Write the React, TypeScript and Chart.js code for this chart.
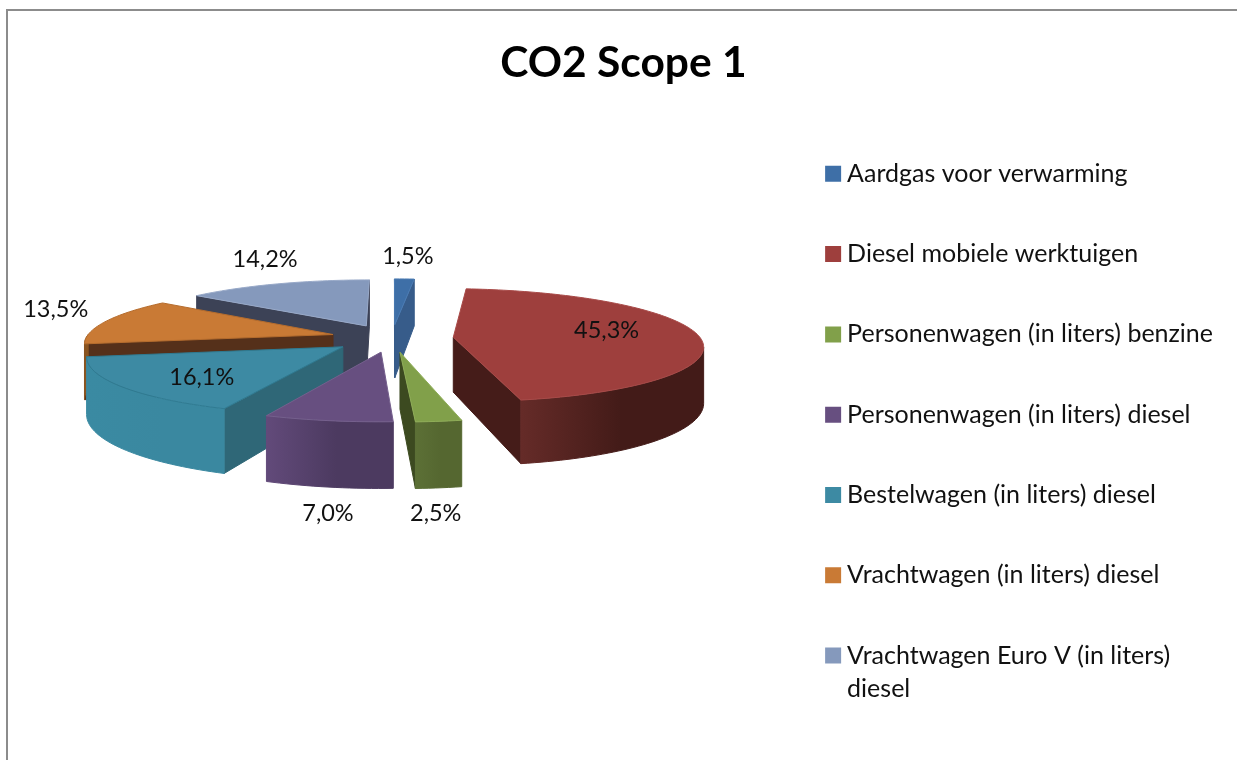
import React, { useEffect, useRef } from "react";
import { Chart, registerables } from "chart.js";

Chart.register(...registerables);

const titleText = "CO2 Scope 1";
const categories: (string | string[])[] = [
  "Aardgas voor verwarming",
  "Diesel mobiele werktuigen",
  "Personenwagen (in liters) benzine",
  "Personenwagen (in liters) diesel",
  "Bestelwagen (in liters) diesel",
  "Vrachtwagen (in liters) diesel",
  ["Vrachtwagen Euro V (in liters)", "diesel"],
];
const shares = [1.5, 45.3, 2.5, 7.0, 16.1, 13.5, 14.2];

const topColors = ["#3E6FA7", "#9E3F3D", "#81A04A", "#674F80", "#3D8AA3", "#C97A35", "#8599BC"];
const sideColors = ["#375C8A", "#451C19", "#3C4A20", "#4D3B60", "#2F6777", "#55301A", "#3C4256"];
const wallFrom = ["#375C8A", "#652B28", "#5C7036", "#624A7A", "#3A8AA2", "#8A5420", "#3C4256"];
const wallTo = ["#375C8A", "#431B18", "#556730", "#4C3A60", "#3A88A0", "#8A5420", "#3C4256"];
const edgeColors = ["#4A7BB3", "#A84A48", "#8FAD58", "#75608D", "#2F7A91", "#B56C2D", "#98A9C8"];
const labelNudge = [
  [3.5, -22.5],
  [-90.5, -4],
  [-3, 92],
  [0, 93],
  [80.5, -9],
  [-50.5, -11.5],
  [-12, -24.5],
];

const EXPLODE = 61.5;
const RADIUS = 247;
const TILT = 0.225;
const PERSPECTIVE = 0.14;
const DEPTH = 55;
const CX = 384 / 1229;
const CANVAS_H = 900;
const CY = 327 / CANVAS_H;

const pie3d = {
  id: "pie3d",
  beforeDatasetDraw(chart: any) {
    const { ctx, width, height } = chart;
    const cx = width * CX;
    const cy = height * CY;
    const arcs = chart.getDatasetMeta(0).data.map((el: any, i: number) => {
      const p = el.getProps(["startAngle", "endAngle", "outerRadius"], true);
      return { i, start: p.startAngle, end: p.endAngle, r: p.outerRadius, mid: (p.startAngle + p.endAngle) / 2 };
    });
    const order = [...arcs].sort((a, b) => Math.sin(a.mid) - Math.sin(b.mid));
    for (const s of order) {
      const ex = EXPLODE * Math.cos(s.mid);
      const ey = EXPLODE * Math.sin(s.mid);
      const scale = (Y: number) => 1 / (1 - (PERSPECTIVE * Y) / s.r);
      const at = (rad: number, ang: number, down = 0) => {
        const X = ex + rad * Math.cos(ang);
        const Y = ey + rad * Math.sin(ang);
        const f = scale(Y);
        return { x: cx + X * f, y: cy + TILT * Y * f + down * DEPTH * f };
      };
      const arcPts = (a: number, b: number, down = 0) => {
        const n = Math.max(2, Math.ceil(Math.abs(b - a) * 40));
        const out = [];
        for (let k = 0; k <= n; k++) out.push(at(s.r, a + ((b - a) * k) / n, down));
        return out;
      };
      const fillPoly = (pts: { x: number; y: number }[], fill: any, stroke?: any) => {
        ctx.beginPath();
        pts.forEach((p, k) => (k ? ctx.lineTo(p.x, p.y) : ctx.moveTo(p.x, p.y)));
        ctx.closePath();
        ctx.fillStyle = fill;
        ctx.fill();
        ctx.strokeStyle = stroke || fill;
        ctx.lineWidth = 1;
        ctx.stroke();
      };
      const apex = at(0, 0);
      const inner = at(s.r * 0.7, s.mid);
      const radialFace = (ang: number) => {
        const e = at(s.r, ang);
        const vx = e.x - apex.x;
        const vy = e.y - apex.y;
        const crossIn = vx * (inner.y - apex.y) - vy * (inner.x - apex.x);
        const crossDown = vx;
        if (crossIn * crossDown >= 0) return;
        fillPoly([apex, e, at(s.r, ang, 1), at(0, 0, 1)], sideColors[s.i]);
      };
      radialFace(s.start);
      radialFace(s.end);
      const lo = Math.max(s.start, 0);
      const hi = Math.min(s.end, Math.PI);
      if (hi > lo) {
        const fullTop = arcPts(lo, hi);
        const fullBottom = arcPts(lo, hi, 1);
        const xs = fullTop.map((p) => p.x);
        const iMax = xs.indexOf(Math.max(...xs));
        const iMin = xs.indexOf(Math.min(...xs));
        const from = Math.min(iMax, iMin);
        const to = Math.max(iMax, iMin) + 1;
        const top = fullTop.slice(from, to);
        const bottom = fullBottom.slice(from, to).reverse();
        const g = ctx.createLinearGradient(Math.min(...xs), 0, Math.max(...xs), 0);
        g.addColorStop(0, wallFrom[s.i]);
        g.addColorStop(0.55, wallTo[s.i]);
        g.addColorStop(1, wallTo[s.i]);
        fillPoly([...top, ...bottom], g);
      }
      fillPoly([apex, ...arcPts(s.start, s.end)], topColors[s.i], edgeColors[s.i]);
    }
    return false;
  },
  afterDatasetsDraw(chart: any) {
    const { ctx, width, height } = chart;
    const cx = width * CX;
    const cy = height * CY;
    ctx.save();
    ctx.font = "400 23.5px Lato";
    ctx.fillStyle = "#111";
    ctx.textAlign = "center";
    ctx.textBaseline = "middle";
    chart.getDatasetMeta(0).data.forEach((el: any, i: number) => {
      const p = el.getProps(["startAngle", "endAngle", "outerRadius"], true);
      const mid = (p.startAngle + p.endAngle) / 2;
      const Y = (EXPLODE + p.outerRadius) * Math.sin(mid);
      const X = (EXPLODE + p.outerRadius) * Math.cos(mid);
      const f = 1 / (1 - (PERSPECTIVE * Y) / p.outerRadius);
      const text = shares[i].toFixed(1).replace(".", ",") + "%";
      ctx.fillText(text, cx + X * f + labelNudge[i][0], cy + TILT * Y * f + labelNudge[i][1]);
    });
    ctx.restore();
  },
};

export default function App() {
  const ref = useRef<HTMLCanvasElement>(null);
  useEffect(() => {
    const chart = new Chart(ref.current as HTMLCanvasElement, {
      type: "pie",
      data: {
        labels: categories as any,
        datasets: [{ data: shares, backgroundColor: topColors, borderWidth: 0 }],
      },
      options: {
        responsive: false,
        animation: false,
        radius: RADIUS,
        layout: { padding: { left: 16, right: 14 } },
        plugins: {
          tooltip: { enabled: false },
          title: {
            display: true,
            text: titleText,
            color: "#000",
            font: { family: "Lato", size: 42.5, weight: "bold" },
            padding: { top: 27, bottom: 20 },
          },
          legend: {
            position: "right",
            align: "start",
            title: {
              display: true,
              text: " ",
              font: { size: 10, lineHeight: 1 },
              padding: { top: 85, bottom: 0 },
            },
            labels: {
              boxWidth: 3,
              boxHeight: 3,
              color: "#111",
              padding: 55.3,
              font: { family: "Lato", size: 25, lineHeight: 1.35 },
              generateLabels(c: any) {
                const base = (Chart as any).overrides.pie.plugins.legend.labels.generateLabels(c);
                return base.map((it: any) => ({ ...it, strokeStyle: it.fillStyle, lineWidth: 13 }));
              },
            },
          },
        },
      } as any,
      plugins: [pie3d as any],
    });
    return () => chart.destroy();
  }, []);
  return (
    <div
      style={{
        position: "absolute",
        left: 6,
        top: 9,
        width: 1231,
        height: 751,
        boxSizing: "border-box",
        borderLeft: "2px solid #8c8c8c",
        borderTop: "2px solid #8c8c8c",
        background: "#fff",
        overflow: "hidden",
      }}
    >
      <canvas ref={ref} width={1229} height={CANVAS_H} style={{ display: "block" }} />
    </div>
  );
}
